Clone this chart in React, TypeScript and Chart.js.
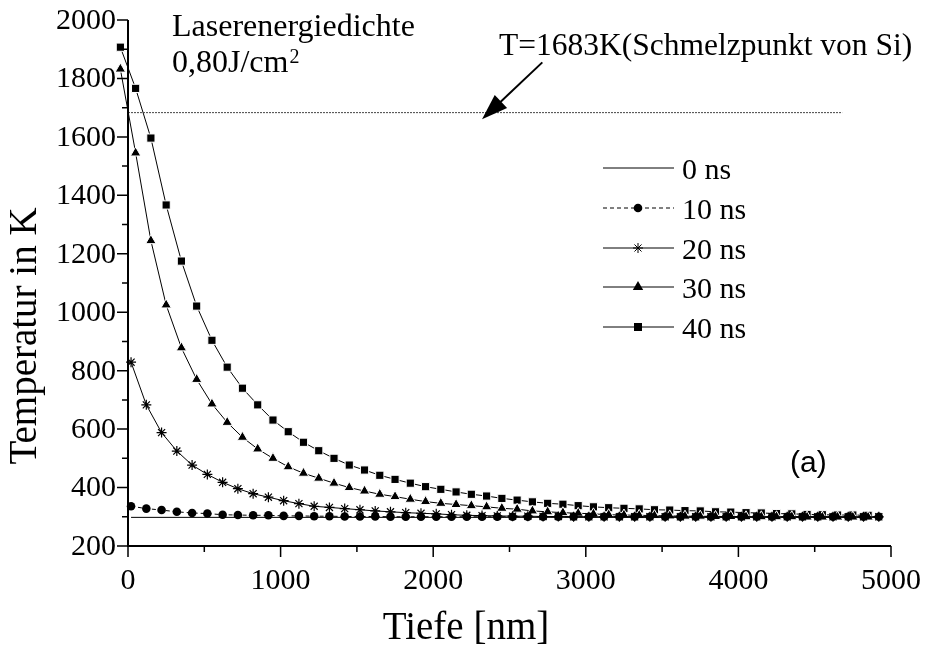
import React, { useEffect, useRef } from "react";
import { Chart, registerables } from "chart.js";
Chart.register(...registerables);

// depth grid of the 30 ns / 40 ns curves (nm)
const depthA = [
  -50, 50, 150, 250, 350, 450, 550, 650, 750, 850,
  950, 1050, 1150, 1250, 1350, 1450, 1550, 1650, 1750, 1850,
  1950, 2050, 2150, 2250, 2350, 2450, 2550, 2650, 2750, 2850,
  2950, 3050, 3150, 3250, 3350, 3450, 3550, 3650, 3750, 3850,
  3950, 4050, 4150, 4250, 4350, 4450, 4550, 4650, 4750, 4850,
];
// depth grid of the 10 ns / 20 ns curves (nm)
const depthB = [
  20, 120, 220, 320, 420, 520, 620, 720, 820, 920,
  1020, 1120, 1220, 1320, 1420, 1520, 1620, 1720, 1820, 1920,
  2020, 2120, 2220, 2320, 2420, 2520, 2620, 2720, 2820, 2920,
  3020, 3120, 3220, 3320, 3420, 3520, 3620, 3720, 3820, 3920,
  4020, 4120, 4220, 4320, 4420, 4520, 4620, 4720, 4820, 4920,
];
const depth0 = [20, 4920];
const temp0 = [298, 298];
const temp10 = [
  336, 328, 323, 317, 313, 311, 307, 306, 305, 305,
  303, 303, 302, 302, 301, 301, 301, 300, 300, 300,
  300, 300, 300, 300, 300, 300, 300, 300, 300, 300,
  300, 300, 300, 300, 300, 300, 300, 300, 300, 300,
  300, 300, 300, 300, 300, 300, 300, 300, 300, 300,
];
const temp20 = [
  829, 683, 588, 525, 477, 445, 418, 396, 379, 367,
  355, 345, 336, 332, 328, 324, 320, 317, 314, 312,
  310, 307, 305, 304, 303, 302, 302, 301, 301, 300,
  300, 300, 300, 300, 300, 300, 300, 300, 300, 300,
  300, 300, 300, 300, 300, 300, 300, 300, 300, 300,
];
const temp30 = [
  1832, 1545, 1245, 1025, 878, 770, 686, 623, 572, 532,
  500, 471, 449, 432, 415, 400, 388, 377, 369, 360,
  352, 346, 342, 338, 334, 329, 326, 320, 317, 314,
  312, 310, 307, 306, 305, 304, 303, 302, 302, 301,
  301, 300, 300, 300, 300, 299, 299, 299, 299, 299,
];
const temp40 = [
  1907, 1766, 1596, 1367, 1175, 1021, 904, 812, 740, 683,
  631, 591, 555, 526, 500, 477, 460, 442, 428, 415,
  403, 394, 385, 377, 371, 363, 357, 351, 346, 343,
  338, 334, 331, 329, 327, 324, 323, 321, 320, 317,
  316, 314, 313, 311, 310, 308, 307, 306, 306, 305,
];
const meltDepth = [0, 4680];
const meltTemp = [1683, 1683];

const yMajor = [200, 400, 600, 800, 1000, 1200, 1400, 1600, 1800, 2000];
const yMinor = [300, 500, 700, 900, 1100, 1300, 1500, 1700, 1900];
const xMajor = [0, 1000, 2000, 3000, 4000, 5000];
const xMinor = [500, 1500, 2500, 3500, 4500];
const legendLabels = ["0 ns", "10 ns", "20 ns", "30 ns", "40 ns"];
const legendStyles = ["none", "circle", "star", "triangle", "rect"];

const SERIF = '"Liberation Serif", "Times New Roman", serif';
const SANS = '"Liberation Sans", Arial, sans-serif';

function drawMarker(ctx: CanvasRenderingContext2D, style: string, x: number, y: number) {
  ctx.save();
  ctx.fillStyle = "#000";
  ctx.strokeStyle = "#000";
  ctx.lineWidth = 1;
  ctx.beginPath();
  if (style === "circle") {
    ctx.arc(x, y, 4.3, 0, Math.PI * 2);
    ctx.fill();
  } else if (style === "rect") {
    ctx.fillRect(x - 4, y - 4, 8, 8);
  } else if (style === "triangle") {
    ctx.moveTo(x, y - 6);
    ctx.lineTo(x + 5.2, y + 3);
    ctx.lineTo(x - 5.2, y + 3);
    ctx.closePath();
    ctx.fill();
  } else if (style === "star") {
    const r = 5;
    for (let k = 0; k < 4; k++) {
      const a = (k * Math.PI) / 4;
      ctx.moveTo(x - r * Math.cos(a), y - r * Math.sin(a));
      ctx.lineTo(x + r * Math.cos(a), y + r * Math.sin(a));
    }
    ctx.stroke();
  }
  ctx.restore();
}

const decor = {
  id: "decor",
  afterDraw(chart: any) {
    const { ctx } = chart;
    const xs = chart.scales.x;
    const ys = chart.scales.y;
    const x0 = xs.getPixelForValue(0);
    const x1 = xs.getPixelForValue(5000);
    const yb = ys.getPixelForValue(200);
    const yt = ys.getPixelForValue(2000);
    ctx.save();
    ctx.strokeStyle = "#000";
    ctx.fillStyle = "#000";
    ctx.lineWidth = 2;
    ctx.beginPath();
    ctx.moveTo(x0, yt);
    ctx.lineTo(x0, yb);
    ctx.lineTo(x1, yb);
    ctx.stroke();
    ctx.lineWidth = 1.5;
    ctx.beginPath();
    yMajor.forEach((v) => {
      const p = ys.getPixelForValue(v);
      ctx.moveTo(x0 - 11, p);
      ctx.lineTo(x0, p);
    });
    yMinor.forEach((v) => {
      const p = ys.getPixelForValue(v);
      ctx.moveTo(x0 - 6, p);
      ctx.lineTo(x0, p);
    });
    xMajor.forEach((v) => {
      const p = xs.getPixelForValue(v);
      ctx.moveTo(p, yb);
      ctx.lineTo(p, yb + 11);
    });
    xMinor.forEach((v) => {
      const p = xs.getPixelForValue(v);
      ctx.moveTo(p, yb);
      ctx.lineTo(p, yb + 6);
    });
    ctx.stroke();

    ctx.font = `30px ${SERIF}`;
    ctx.textAlign = "right";
    ctx.textBaseline = "middle";
    yMajor.forEach((v) => {
      ctx.fillText(String(v), x0 - 12, ys.getPixelForValue(v) + 1);
    });
    ctx.textAlign = "center";
    xMajor.forEach((v) => {
      ctx.fillText(String(v), xs.getPixelForValue(v), yb + 35);
    });

    // axis titles
    ctx.font = `39px ${SERIF}`;
    ctx.textAlign = "center";
    ctx.textBaseline = "middle";
    ctx.fillText("Tiefe [nm]", 466, 629);
    ctx.save();
    ctx.translate(26, 336);
    ctx.rotate(-Math.PI / 2);
    ctx.fillText("Temperatur in K", 0, 0);
    ctx.restore();

    // annotations
    ctx.font = `32px ${SERIF}`;
    ctx.textAlign = "left";
    ctx.textBaseline = "alphabetic";
    ctx.fillText("Laserenergiedichte", 172, 36);
    ctx.fillText("0,80J/cm", 172, 72);
    const w = ctx.measureText("0,80J/cm").width;
    ctx.font = `20px ${SERIF}`;
    ctx.fillText("2", 172 + w + 1, 63);
    ctx.font = `31.5px ${SERIF}`;
    ctx.fillText("T=1683K(Schmelzpunkt von Si)", 499, 55);

    // arrow
    const tipX = xs.getPixelForValue(2320);
    const tipY = ys.getPixelForValue(1660);
    const tailX = xs.getPixelForValue(2715);
    const tailY = ys.getPixelForValue(1855);
    const ang = Math.atan2(tipY - tailY, tipX - tailX);
    const hl = 26;
    const hw = 9;
    ctx.lineWidth = 2;
    ctx.beginPath();
    ctx.moveTo(tailX, tailY);
    ctx.lineTo(tipX - Math.cos(ang) * (hl - 4), tipY - Math.sin(ang) * (hl - 4));
    ctx.stroke();
    ctx.beginPath();
    ctx.moveTo(tipX, tipY);
    const bx = tipX - Math.cos(ang) * hl;
    const by = tipY - Math.sin(ang) * hl;
    ctx.lineTo(bx - Math.sin(ang) * hw, by + Math.cos(ang) * hw);
    ctx.lineTo(bx + Math.sin(ang) * hw, by - Math.cos(ang) * hw);
    ctx.closePath();
    ctx.fill();

    ctx.font = `30px ${SANS}`;
    ctx.fillText("(a)", 790, 472);

    // legend
    ctx.font = `30px ${SERIF}`;
    const rowY = [168, 208, 248, 287, 327];
    legendLabels.forEach((lab, i) => {
      const y = rowY[i];
      ctx.save();
      ctx.lineWidth = 1;
      ctx.strokeStyle = "#000";
      if (i === 1) ctx.setLineDash([4, 3]);
      ctx.beginPath();
      ctx.moveTo(603, y);
      ctx.lineTo(674, y);
      ctx.stroke();
      ctx.restore();
      drawMarker(ctx, legendStyles[i], 638, y);
      ctx.textAlign = "left";
      ctx.textBaseline = "alphabetic";
      ctx.fillText(lab, 682, y + 11);
    });
    ctx.restore();
  },
};

function pts(xv: number[], yv: number[]) {
  return xv.map((x, i) => ({ x, y: yv[i] }));
}

// x scale: 0 nm at 128 px, 5000 nm at 891 px; the scale starts at -100 nm
const PX_PER_NM = (891 - 128) / 5000;

export default function App() {
  const ref = useRef<HTMLCanvasElement>(null);
  useEffect(() => {
    const canvas = ref.current!;
    const chart = new Chart(canvas, {
      type: "line",
      data: {
        datasets: [
          {
            label: "T_m",
            data: pts(meltDepth, meltTemp),
            borderColor: "#444",
            borderWidth: 1,
            borderDash: [2, 1],
            pointRadius: 0,
            clip: false,
          },
          {
            label: "0 ns",
            data: pts(depth0, temp0),
            borderColor: "#000",
            borderWidth: 1,
            pointRadius: 0,
            clip: false,
          },
          {
            label: "10 ns",
            data: pts(depthB, temp10),
            borderColor: "#000",
            borderWidth: 1,
            borderDash: [4, 3],
            pointStyle: "circle",
            pointRadius: 4.3,
            pointBackgroundColor: "#000",
            pointBorderColor: "#000",
            pointBorderWidth: 0,
            clip: false,
          },
          {
            label: "20 ns",
            data: pts(depthB, temp20),
            borderColor: "#000",
            borderWidth: 1,
            pointStyle: "star",
            pointRadius: 5,
            pointBackgroundColor: "#000",
            pointBorderColor: "#000",
            pointBorderWidth: 1.2,
            clip: false,
          },
          {
            label: "30 ns",
            data: pts(depthA, temp30),
            borderColor: "#000",
            borderWidth: 1,
            pointStyle: "triangle",
            pointRadius: 6,
            pointBackgroundColor: "#000",
            pointBorderColor: "#fff",
            pointBorderWidth: 1,
            clip: false,
          },
          {
            label: "40 ns",
            data: pts(depthA, temp40),
            borderColor: "#000",
            borderWidth: 1,
            pointStyle: "rect",
            pointRadius: 5.8,
            pointBackgroundColor: "#000",
            pointBorderColor: "#fff",
            pointBorderWidth: 1,
            clip: false,
          },
        ],
      },
      options: {
        responsive: false,
        animation: false,
        devicePixelRatio: 1,
        layout: { padding: { left: 128 - 100 * PX_PER_NM, right: 40, top: 20, bottom: 102 } },
        plugins: { legend: { display: false }, tooltip: { enabled: false } },
        scales: {
          x: { type: "linear", min: -100, max: 5000, display: false },
          y: { type: "linear", min: 200, max: 2000, display: false },
        },
      },
      plugins: [decor],
    });
    return () => chart.destroy();
  }, []);
  return (
    <div style={{ position: "fixed", left: 0, top: 0, width: 931, height: 648, background: "#fff" }}>
      <canvas ref={ref} width={931} height={648} />
    </div>
  );
}
